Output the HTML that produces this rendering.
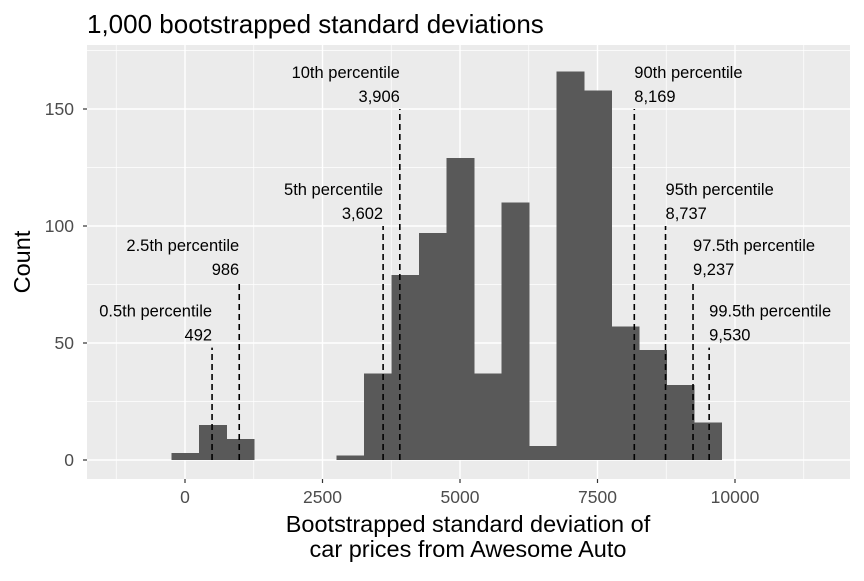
<!DOCTYPE html>
<html><head><meta charset="utf-8"><style>
body{margin:0;background:#fff;font-family:"Liberation Sans",sans-serif}
</style></head><body>
<svg id="c" width="864" height="576" xmlns="http://www.w3.org/2000/svg" font-family="Liberation Sans, sans-serif"></svg>
<script>
const binCenters=[0,500,1000,3000,3500,4000,4500,5000,5500,6000,6500,7000,7500,8000,8500,9000,9500];
const counts=[3,15,9,2,37,79,97,129,37,110,6,166,158,57,47,32,16];
const pctNames=["0.5th","2.5th","5th","10th","90th","95th","97.5th","99.5th"];
const pctValues=[492,986,3602,3906,8169,8737,9237,9530];
const pctLabels=["492","986","3,602","3,906","8,169","8,737","9,237","9,530"];
const pctHeights=[48,76,100,150,150,100,76,48];
const xTicks=[0,2500,5000,7500,10000];
const yTicks=[0,50,100,150];
const binWidth=500;
const NS="http://www.w3.org/2000/svg";
const svg=document.getElementById('c');
const L=87,R=850,T=45,B=479;
const x=v=>185+(v)*(735-185)/10000;
const y=v=>460-v*(460-109)/150;
function el(t,a,p){const e=document.createElementNS(NS,t);for(const k in a)e.setAttribute(k,a[k]);(p||svg).appendChild(e);return e;}
const panel=el('rect',{x:L,y:T,width:R-L,height:B-T,fill:'#ebebeb'});

for(let v=-1250;v<=11250;v+=2500){const g=el('line',{x1:x(v),x2:x(v),y1:T,y2:B,stroke:'#fff','stroke-width':0.7});}
for(let v=25;v<=175;v+=50){if(y(v)<T)continue;const g=el('line',{x1:L,x2:R,y1:y(v),y2:y(v),stroke:'#fff','stroke-width':0.7});}
xTicks.forEach(v=>{const g=el('line',{x1:x(v),x2:x(v),y1:T,y2:B,stroke:'#fff','stroke-width':1.4});
const t=el('line',{x1:x(v),x2:x(v),y1:B,y2:B+4,stroke:'#333','stroke-width':1.2});
const l=el('text',{x:x(v),y:B+24,'text-anchor':'middle','font-size':17.5,fill:'#4d4d4d'});l.textContent=v;});
yTicks.forEach(v=>{const g=el('line',{x1:L,x2:R,y1:y(v),y2:y(v),stroke:'#fff','stroke-width':1.4});
const t=el('line',{x1:L-4,x2:L,y1:y(v),y2:y(v),stroke:'#333','stroke-width':1.2});
const l=el('text',{x:L-13,y:y(v)+6,'text-anchor':'end','font-size':17.5,fill:'#4d4d4d'});l.textContent=v;});
binCenters.forEach((c,i)=>{const b=el('rect',{x:x(c-binWidth/2),y:y(counts[i]),width:x(c+binWidth/2)-x(c-binWidth/2)+0.5,height:y(0)-y(counts[i]),fill:'#595959','shape-rendering':'crispEdges'});});
pctValues.forEach((v,i)=>{const ln=el('line',{x1:x(v),x2:x(v),y1:y(0),y2:y(pctHeights[i]),stroke:'#000','stroke-width':1.6,'stroke-dasharray':'6,4'});
const anc=i<4?'end':'start';const top=y(pctHeights[i]);
const a=el('text',{x:x(v),y:top-31,'text-anchor':anc,'font-size':16.5,fill:'#000'});a.textContent=pctNames[i]+' percentile';
const b=el('text',{x:x(v),y:top-7,'text-anchor':anc,'font-size':16.5,fill:'#000'});b.textContent=pctLabels[i];});
const ti=el('text',{x:87,y:33,'font-size':26,fill:'#000'});ti.textContent='1,000 bootstrapped standard deviations';
const x1=el('text',{x:468,y:532,'text-anchor':'middle','font-size':23.5,fill:'#000'});x1.textContent='Bootstrapped standard deviation of';
const x2=el('text',{x:468,y:557,'text-anchor':'middle','font-size':23.5,fill:'#000'});x2.textContent='car prices from Awesome Auto';
const yt=el('text',{x:0,y:0,'text-anchor':'middle','font-size':23.5,fill:'#000',transform:'translate(30,262) rotate(-90)'});yt.textContent='Count';
</script>
</body></html>
